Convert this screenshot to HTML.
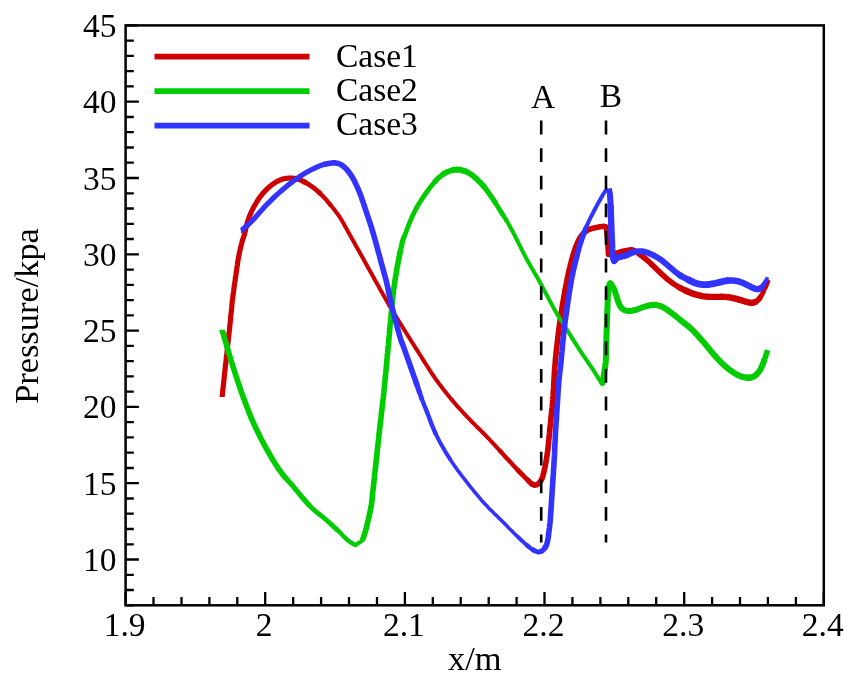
<!DOCTYPE html>
<html><head><meta charset="utf-8"><title>Pressure chart</title>
<style>html,body{margin:0;padding:0;background:#fff}svg{display:block;will-change:transform}</style></head>
<body>
<svg width="858" height="694" viewBox="0 0 858 694">
<rect width="858" height="694" fill="#fff"/>
<defs><clipPath id="cr"><rect x="0" y="0" width="858" height="396.9"/></clipPath><clipPath id="cg"><rect x="0" y="329.8" width="858" height="400"/></clipPath><clipPath id="cb"><rect x="241.1" y="0" width="700" height="694"/></clipPath></defs>
<g fill="none" stroke="#cc0000" stroke-linejoin="round"><path clip-path="url(#cr)" d="M221.8 399.4 L221.7 400.3 L222.1 396.9 L222.3 395.4 L222.5 393.6 L222.7 391.5 L222.9 389.2 L223.2 386.7 L223.5 384.1 L223.8 381.3 L224.1 378.5 L224.4 375.6 L224.7 372.7 L225.0 369.9 L225.3 367.1 L225.6 364.5 L225.9 362.0 L226.2 359.2 L226.5 356.2 L226.9 353.3 L227.2 350.3 L227.5 347.3 L227.8 344.4 L228.1 341.6 L228.4 338.9 L228.7 336.3 L229.0 333.9 L229.2 331.8 L229.4 329.9 L229.9 325.4 L230.1 323.4 L230.4 320.0 L230.6 318.0 L230.8 315.7 L231.1 313.2 L231.4 310.5 L231.7 307.7 L231.9 304.9 L232.2 302.2 L232.5 299.7 L232.8 297.3 L233.1 294.6 L233.5 292.1 L233.8 289.7 L234.1 287.4 L234.4 285.1 L234.8 282.6 L235.2 279.9 L235.5 277.6 L235.9 275.1 L236.2 272.5 L236.6 269.9 L237.0 267.3 L237.4 264.6 L237.7 262.1 L238.1 259.7 L238.5 257.5 L239.1 254.4 L239.7 251.5 L240.3 248.9 L240.9 246.4 L241.5 244.1 L242.0 242.0 L242.9 239.0 L243.7 236.8 L244.6 233.9 L245.2 231.5 L245.8 228.7 L246.5 225.8 L247.2 222.8 L248.1 219.9 L249.0 217.5 L249.9 215.2 L250.9 212.8 L252.0 210.5 L253.2 208.1 L254.4 205.9 L255.7 203.7 L257.0 201.5 L258.4 199.3 L259.8 197.3 L261.3 195.3 L262.8 193.4 L264.7 191.3 L266.7 189.3 L268.7 187.5 L270.7 185.8 L272.6 184.3 L275.5 182.3 L278.2 180.9 L280.9 179.7 L283.7 178.8 L286.5 178.3 L289.3 178.0 L292.1 178.1 L294.9 178.4 L297.7 179.1 L300.5 180.1 L303.3 181.4 L306.1 182.9" stroke-width="5.2"/><path d="M303.3 181.4 L306.1 182.9 L308.2 184.1 L310.3 185.5 L312.4 186.9 L314.5 188.5 L316.6 190.2 L318.7 192.1 L320.8 194.1" stroke-width="4.8"/><path d="M318.7 192.1 L320.8 194.1 L322.9 196.2 L324.6 198.0 L326.3 199.9 L327.9 201.8 L329.6 203.8 L331.3 205.9" stroke-width="4.4"/><path d="M329.6 203.8 L331.3 205.9 L333.0 208.0 L334.8 210.3 L336.5 212.6 L338.2 214.8 L339.7 217.0 L341.3 219.6 L342.8 222.1 L344.1 224.5 L345.5 227.0 L346.8 229.3 L348.0 231.5 L349.4 234.0 L351.2 237.3 L352.2 239.1 L353.3 241.0 L354.4 243.1 L355.6 245.2 L356.9 247.5 L358.3 249.9 L359.6 252.3 L361.0 254.8 L362.4 257.3 L363.6 259.4 L364.8 261.6 L366.0 263.8 L367.3 266.2 L368.6 268.5 L369.9 270.9 L371.3 273.2 L372.6 275.6 L373.9 278.0 L375.1 280.3 L376.4 282.5 L377.8 284.9 L379.1 287.4 L380.5 289.9 L381.9 292.3 L383.2 294.8 L384.6 297.1 L385.9 299.5 L387.2 301.7 L388.4 303.9 L389.6 306.0 L391.2 308.8 L392.8 311.3 L394.3 313.8 L395.7 316.1 L397.1 318.4 L398.5 320.7 L400.0 323.0 L401.5 325.4 L403.0 327.8 L404.5 330.3 L406.0 332.7 L407.5 335.0 L408.9 337.3 L410.3 339.5 L411.7 341.8 L413.0 343.7 L414.2 345.6 L415.4 347.6 L416.9 349.9 L418.7 352.7 L419.8 354.5 L421.1 356.5 L422.4 358.6 L423.8 360.9 L425.2 363.2 L426.7 365.5 L428.3 367.9 L429.8 370.3 L431.3 372.7 L432.9 375.0 L434.4 377.2 L435.9 379.3 L437.5 381.5 L439.0 383.6 L440.6 385.7 L442.2 387.8 L443.8 389.9 L445.5 392.0 L447.1 394.0 L448.7 396.0 L450.3 398.0 L451.9 399.9 L453.7 402.0 L455.4 404.0 L457.2 406.1 L459.0 408.0 L460.8 410.0 L462.5 411.9 L464.3 413.8 L466.0 415.6 L467.7 417.4 L469.4 419.2 L471.5 421.3 L473.5 423.4 L475.5 425.4 L477.4 427.3 L479.4 429.2 L481.3 431.1 L483.2 433.0 L485.1 434.9 L486.9 436.8 L488.7 438.7 L490.4 440.5 L492.1 442.3 L493.9 444.2 L495.6 446.1 L497.5 448.1 L499.4 450.2 L501.1 452.0" stroke-width="4.0"/><path d="M499.4 450.2 L501.1 452.0 L502.8 453.9 L504.6 455.9 L506.5 457.9 L508.4 460.0 L510.3 462.0 L512.1 464.0 L513.8 465.9 L515.4 467.6 L516.9 469.2 L519.6 472.0" stroke-width="4.4"/><path d="M516.9 469.2 L519.6 472.0 L521.9 474.3 L524.0 476.4 L525.9 478.2 L527.4 479.7 L529.6 482.0" stroke-width="4.8"/><path d="M527.4 479.7 L529.6 482.0 L531.0 483.2 L532.7 484.5" stroke-width="5.2"/><path d="M531.0 483.2 L532.7 484.5 L534.5 485.2 L536.5 484.8 L538.5 483.6 L540.3 481.8 L542.0 478.6 L542.7 476.6 L543.4 474.1 L544.0 471.4 L544.7 468.5 L545.3 465.6 L545.8 463.1 L546.2 460.4 L546.7 457.6 L547.1 454.8 L547.5 452.2 L547.8 449.9 L548.2 446.7 L548.4 444.2 L548.8 440.0 L549.0 438.1 L549.2 435.8 L549.5 433.3 L549.7 430.6 L550.0 427.8 L550.3 425.0 L550.6 422.2 L550.8 419.6 L551.1 417.2 L551.3 415.0 L551.6 412.1 L551.8 410.0 L552.1 408.1 L552.3 406.0 L552.5 403.5 L552.8 399.9 L552.9 398.0 L553.1 395.9 L553.2 393.7 L553.3 391.4 L553.5 388.9 L553.6 386.3 L553.8 383.6 L553.9 380.9 L554.1 378.2 L554.2 375.5 L554.4 372.8 L554.6 370.1 L554.8 367.4 L555.0 364.9 L555.2 362.4 L555.4 359.9 L555.7 357.4 L555.9 354.9 L556.2 352.4 L556.4 349.8 L556.7 347.3 L557.0 344.8 L557.3 342.3 L557.6 339.8 L557.9 337.3 L558.2 334.8 L558.5 332.4 L558.8 329.9 L559.2 327.2 L559.5 324.5 L559.9 321.7 L560.3 319.0 L560.8 316.2 L561.2 313.4 L561.6 310.7 L562.0 308.0 L562.4 305.4 L562.9 302.9 L563.3 300.5 L563.6 298.2 L564.0 296.0 L564.6 292.7 L565.1 289.6 L565.7 286.7 L566.2 284.0 L566.7 281.5 L567.1 279.2 L567.6 277.0 L568.0 275.0 L568.7 271.8 L569.2 269.5 L569.8 267.5 L570.4 265.0 L571.0 262.6 L571.7 259.9 L572.5 257.2 L573.2 254.5 L574.0 252.0 L575.0 249.1 L576.0 246.3 L577.0 243.8 L578.0 241.5 L579.3 239.0 L580.6 236.8 L582.0 235.0 L584.1 232.7 L586.5 230.8 L589.5 229.3 L592.9 228.2 L596.5 227.4 L599.9 226.8 L602.3 226.5 L604.1 226.4 L605.5 226.8 L606.4 227.2" stroke-width="5.6"/><path d="M606.4 227.2 L606.6 228.9 L606.8 231.3 L607.1 234.1 L607.4 237.1 L607.6 240.0 L607.8 243.0 L608.0 246.4 L608.2 249.7 L608.4 252.5 L608.5 254.5" stroke-width="5.6"/><path d="M608.5 254.5 L610.5 254.2 L613.4 253.7 L616.2 253.2 L619.7 252.3 L623.1 251.3 L626.8 250.4 L630.1 249.9 L632.1 249.8 L634.3 250.6 L636.1 251.7 L638.3 253.2 L640.6 254.9 L642.7 256.5 L645.1 258.5 L647.4 260.4 L649.7 262.5 L651.9 264.6 L654.1 266.7 L656.7 269.3 L658.3 270.8 L660.1 272.6 L662.0 274.4 L664.0 276.2 L666.0 278.0 L667.9 279.6 L670.1 281.3 L672.4 283.0 L674.6 284.5 L676.9 286.0 L679.1 287.3 L681.9 288.8" stroke-width="5.6"/><path d="M679.1 287.3 L681.9 288.8 L684.8 290.2 L687.6 291.5" stroke-width="6.0"/><path d="M684.8 290.2 L687.6 291.5 L690.0 292.5 L693.7 293.9 L697.0 294.8 L699.6 295.5 L702.4 296.1 L705.4 296.6 L708.6 296.8 L711.9 296.9 L715.2 296.9 L718.6 296.9 L721.9 296.8 L725.0 296.9 L728.7 297.2 L732.0 297.8 L735.5 298.7 L739.0 299.7 L742.5 300.7 L745.9 301.7 L748.8 302.5 L751.5 302.9 L754.0 302.6" stroke-width="6.4"/><path d="M751.5 302.9 L754.0 302.6 L756.4 301.5" stroke-width="6.0"/><path d="M754.0 302.6 L756.4 301.5 L758.6 299.5 L760.6 296.9" stroke-width="5.6"/><path d="M758.6 299.5 L760.6 296.9 L762.4 293.8" stroke-width="4.8"/><path d="M760.6 296.9 L762.4 293.8 L764.1 290.6" stroke-width="4.4"/><path d="M762.4 293.8 L764.1 290.6 L765.6 287.7 L766.9 285.0" stroke-width="4.0"/><path d="M765.6 287.7 L766.9 285.0 L768.1 282.2 L769.0 280.1" stroke-width="3.6"/><circle cx="606.4" cy="227.2" r="2.8" fill="#cc0000" stroke="none"/><circle cx="608.5" cy="254.5" r="2.8" fill="#cc0000" stroke="none"/></g>
<g fill="none" stroke="#00cc00" stroke-linejoin="round"><path clip-path="url(#cg)" d="M221.4 327.4 L221.2 326.8 L222.1 329.8 L222.6 331.4 L223.1 333.4 L223.8 335.7 L224.5 338.2 L225.3 341.0 L226.2 343.8 L227.0 346.8 L227.9 349.7 L228.7 352.6 L229.5 355.3 L230.3 357.9 L231.1 360.6 L232.0 363.3 L232.8 366.1 L233.7 368.8 L234.6 371.4 L235.4 374.0 L236.2 376.6 L237.0 379.0 L237.8 381.3 L238.5 383.5 L239.6 386.7 L240.5 389.4 L241.3 391.9 L242.2 394.3 L243.2 397.0 L244.3 400.0 L245.1 402.1 L245.9 404.2 L246.8 406.5 L247.7 408.8 L248.6 411.2 L249.5 413.7 L250.5 416.1 L251.5 418.5 L252.6 420.9 L253.6 423.3 L254.7 425.6 L255.7 428.0 L256.9 430.3 L258.0 432.6 L259.2 434.9 L260.3 437.3 L261.5 439.6 L262.8 441.9 L264.0 444.3 L265.3 446.6 L266.6 449.0 L268.0 451.4 L269.4 453.9 L270.8 456.3 L272.2 458.8 L273.7 461.2 L275.1 463.5 L276.6 465.8 L277.9 467.9 L279.3 469.9 L281.1 472.4 L282.8 474.6 L284.5 476.6 L286.2 478.5" stroke-width="5.6"/><path d="M284.5 476.6 L286.2 478.5 L287.9 480.4 L289.8 482.5 L291.9 484.9 L293.4 486.6 L294.9 488.5 L296.6 490.5 L298.2 492.5 L300.0 494.6 L301.7 496.7 L303.5 498.8 L305.2 500.8 L306.9 502.7 L308.5 504.5 L310.0 506.1" stroke-width="5.2"/><path d="M308.5 504.5 L310.0 506.1 L312.2 508.3 L314.3 510.2 L316.3 511.8 L318.2 513.3 L320.1 514.8 L322.0 516.3 L324.0 518.0 L326.0 519.8 L328.1 521.6 L330.2 523.5 L332.3 525.4 L334.3 527.2 L336.2 528.9 L338.0 530.6" stroke-width="4.8"/><path d="M336.2 528.9 L338.0 530.6 L340.3 532.8 L342.3 534.9 L344.2 536.9 L346.0 538.7 L347.8 540.3 L350.8 542.5 L353.6 544.1 L355.5 545.2" stroke-width="4.4"/><path d="M355.5 545.2 L357.5 543.7 L360.4 541.8 L362.4 540.3" stroke-width="4.0"/><path d="M362.4 540.3 L363.1 538.4 L364.1 535.5 L365.2 532.0 L365.9 529.6 L366.6 526.8 L367.3 523.9 L368.0 520.9 L368.7 518.0 L369.3 515.1 L370.0 512.2 L370.5 509.4 L371.1 506.6 L371.5 504.0 L371.9 501.1 L372.1 498.5 L372.3 496.0 L372.6 493.2 L372.9 490.8 L373.2 488.3 L373.5 485.7 L373.8 482.9 L374.1 480.0 L374.4 477.6 L374.6 475.2 L374.9 472.7 L375.2 469.9 L375.6 466.7 L376.0 462.9 L376.2 460.9 L376.5 458.7 L376.7 456.4 L377.0 453.9 L377.2 451.4 L377.5 448.8 L377.8 446.1 L378.1 443.4 L378.4 440.7 L378.7 438.0 L378.9 435.3 L379.2 432.8 L379.5 430.3 L379.8 427.7 L380.1 425.2 L380.4 422.7 L380.7 420.2 L381.0 417.8 L381.2 415.3 L381.5 412.8 L381.8 410.4 L382.1 407.9 L382.4 405.3 L382.7 402.7 L383.0 400.0 L383.3 397.6 L383.5 395.2 L383.8 392.8 L384.0 390.3 L384.3 387.8 L384.5 385.3 L384.8 382.7 L385.0 380.2 L385.3 377.6 L385.5 375.1 L385.8 372.5 L386.0 370.0 L386.3 367.4 L386.5 364.9 L386.7 362.4 L387.0 359.9 L387.2 357.4 L387.4 354.8 L387.7 352.3 L387.9 349.8 L388.1 347.3 L388.4 344.7 L388.6 342.2 L388.8 339.7 L389.0 337.3 L389.3 334.8 L389.5 332.3 L389.7 329.9 L389.9 327.2 L390.2 324.5 L390.5 321.8 L390.7 319.0 L391.0 316.2 L391.2 313.4 L391.5 310.7 L391.7 308.1 L392.0 305.6 L392.2 303.2 L392.4 301.0 L392.6 298.9 L392.8 297.0 L393.2 293.2 L393.5 290.7 L393.8 288.8 L394.1 286.7 L394.5 283.9 L394.8 281.7 L395.2 279.2 L395.6 276.6 L396.1 273.9 L396.5 271.1 L397.0 268.3 L397.5 265.6 L398.0 262.9 L398.5 260.2 L399.1 257.4 L399.6 254.5 L400.2 251.6" stroke-width="5.6"/><path d="M399.6 254.5 L400.2 251.6 L400.8 248.9 L401.4 246.3 L401.9 244.0 L402.4 242.0 L403.4 238.5 L404.3 236.4" stroke-width="5.2"/><path d="M403.4 238.5 L404.3 236.4 L405.3 233.9 L406.3 231.3 L407.3 228.5 L408.4 225.6 L409.6 222.7 L410.8 219.9 L412.0 217.0 L413.3 214.2 L414.6 211.5 L415.9 209.0 L417.3 206.5 L418.7 204.1 L420.2 201.7 L421.9 199.1 L423.7 196.4 L425.5 193.8 L427.2 191.5 L429.1 188.9 L430.7 186.7 L432.5 184.5 L434.4 182.2 L436.4 180.0" stroke-width="4.8"/><path d="M434.4 182.2 L436.4 180.0 L438.6 177.8 L440.5 176.2 L442.5 174.6 L444.7 173.2" stroke-width="5.2"/><path d="M442.5 174.6 L444.7 173.2 L447.0 172.0 L449.5 171.1 L452.1 170.3 L454.8 169.8" stroke-width="5.6"/><path d="M452.1 170.3 L454.8 169.8 L457.3 169.6 L460.4 169.8 L463.5 170.6 L466.4 171.7" stroke-width="6.0"/><path d="M463.5 170.6 L466.4 171.7 L468.6 172.8 L470.6 174.1 L472.7 175.6 L474.8 177.3 L476.9 179.1 L478.9 181.2 L481.0 183.3 L483.1 185.7 L484.8 187.7" stroke-width="5.6"/><path d="M483.1 185.7 L484.8 187.7 L486.5 189.9 L488.1 192.1 L489.8 194.5 L491.5 196.9 L492.9 199.0 L494.4 201.2 L495.8 203.5" stroke-width="5.2"/><path d="M494.4 201.2 L495.8 203.5 L497.2 205.8 L498.6 208.0 L499.9 210.1 L501.4 212.4 L502.8 214.7" stroke-width="4.8"/><path d="M501.4 212.4 L502.8 214.7 L504.2 216.8 L505.5 219.0 L506.9 221.3" stroke-width="4.4"/><path d="M505.5 219.0 L506.9 221.3 L508.2 223.5 L509.4 225.6 L510.7 227.9 L512.1 230.5 L513.9 233.9 L514.9 235.7 L515.9 237.8 L517.0 240.0 L518.2 242.4 L519.4 244.8 L520.7 247.3 L521.9 249.8 L523.2 252.3 L524.5 254.8 L525.7 257.2 L526.9 259.4 L528.2 261.7 L529.4 263.9 L530.6 266.1 L531.8 268.2 L533.1 270.3 L534.3 272.4 L535.5 274.5 L536.8 276.7 L538.1 279.0 L539.5 281.5 L540.7 283.7 L542.0 286.0 L543.2 288.5 L544.6 291.0 L545.9 293.5 L547.3 296.1 L548.6 298.7 L550.0 301.2 L551.3 303.6 L552.5 305.9 L553.7 308.1 L554.8 310.1 L556.5 313.1 L558.0 315.6 L559.4 317.8 L560.7 319.9 L562.1 322.0 L563.5 324.3 L565.2 327.0 L566.4 328.9 L567.7 331.0 L569.0 333.1 L570.4 335.3 L571.8 337.6 L573.2 339.9 L574.7 342.1 L576.1 344.4 L577.4 346.5 L578.8 348.6 L580.0 350.5 L581.6 353.0 L583.2 355.3 L584.7 357.4 L586.1 359.5 L587.5 361.6 L588.9 363.6 L590.3 365.6 L591.7 367.7 L593.4 370.2 L595.1 373.0 L596.8 375.7 L598.5 378.4 L600.0 380.8 L601.3 382.8 L602.2 384.3" stroke-width="4.0"/><path d="M602.2 384.3 L602.5 382.8 L602.8 380.8 L603.2 378.4 L603.7 375.7 L604.2 372.8 L604.6 369.9 L605.1 367.1 L605.4 364.4 L605.7 362.0 L605.9 359.3 L606.0 356.7 L606.1 354.4 L606.1 352.0 L606.1 349.5 L606.1 346.9 L606.2 343.9 L606.3 341.6 L606.4 339.2 L606.4 336.6 L606.5 334.0 L606.6 331.3 L606.7 328.5 L606.8 325.8 L606.9 323.1 L607.0 320.5 L607.1 318.0 L607.2 315.2 L607.3 312.4 L607.4 309.6 L607.5 306.8 L607.6 304.1 L607.7 301.5 L607.8 299.1 L607.9 296.9 L608.0 295.0 L608.3 290.7 L608.6 288.0 L609.0 286.0 L609.5 283.9 L610.2 283.2 L611.0 283.8 L612.0 285.5 L613.3 287.6 L614.8 290.8 L615.6 293.3 L616.5 296.3 L617.4 299.4 L618.3 302.0 L619.9 305.7 L621.7 308.3 L624.3 310.1 L627.3 311.0 L630.5 311.0 L634.3 310.3 L636.6 309.6 L639.0 308.7 L641.6 307.7 L644.1 306.9 L646.6 306.2 L649.1 305.5 L651.5 305.0 L653.9 304.8 L656.8 305.1 L659.6 305.8 L662.3 306.9 L664.4 308.0 L666.4 309.3 L668.5 310.8 L670.7 312.4 L673.0 314.1 L675.4 316.0 L677.9 318.0 L680.5 320.1 L682.7 321.8 L684.9 323.6 L687.2 325.4 L689.6 327.4 L691.9 329.5 L693.8 331.4 L695.7 333.4 L697.7 335.5 L699.6 337.7 L701.6 339.9 L703.5 342.1 L705.2 344.0 L706.8 346.1 L708.5 348.1 L710.2 350.2 L711.9 352.2 L713.5 354.2 L715.2 356.1 L717.2 358.2 L719.1 360.3 L721.1 362.3 L723.0 364.2 L725.0 366.0 L726.9 367.7 L729.3 369.6 L731.7 371.3 L734.0 372.9 L736.3 374.3 L738.5 375.4 L741.9 376.7 L745.0 377.4 L747.8 377.7" stroke-width="6.0"/><path d="M745.0 377.4 L747.8 377.7 L751.5 377.4" stroke-width="6.4"/><path d="M747.8 377.7 L751.5 377.4 L754.8 375.9 L756.9 374.1 L758.9 371.8 L760.7 368.9 L761.7 366.8 L762.7 364.3 L763.7 361.8 L764.5 359.3" stroke-width="6.0"/><path d="M763.7 361.8 L764.5 359.3 L765.3 357.2 L766.7 353.0 L767.6 350.2" stroke-width="5.6"/><circle cx="355.5" cy="545.2" r="2.0" fill="#00cc00" stroke="none"/><circle cx="362.4" cy="540.3" r="2.0" fill="#00cc00" stroke="none"/><circle cx="602.2" cy="384.3" r="2.0" fill="#00cc00" stroke="none"/></g>
<g fill="none" stroke="#3333ff" stroke-linejoin="round"><path clip-path="url(#cb)" d="M239.1 232.1 L240.0 231.5 L241.1 230.6 L241.7 230.3" stroke-width="4.8"/><path d="M241.1 230.6 L241.7 230.3 L243.2 229.0 L244.6 227.7 L246.5 226.1 L248.6 224.2 L250.8 222.1 L253.0 219.9 L254.8 218.0 L256.6 215.9 L258.5 213.7 L260.4 211.5 L262.3 209.4 L264.2 207.3 L266.1 205.3 L267.9 203.4 L269.8 201.6 L271.6 199.7 L273.4 198.0 L275.3 196.2 L277.5 194.1 L279.8 192.1 L282.0 190.2 L284.3 188.2 L286.5 186.4 L288.7 184.6 L291.0 182.9 L293.2 181.2 L295.5 179.6 L297.7 178.0 L299.9 176.5 L302.2 175.0 L304.4 173.6 L306.7 172.3 L308.9 171.0 L311.8 169.5 L314.7 168.1 L317.5 166.8 L320.1 165.7 L323.2 164.6 L325.9 163.9" stroke-width="5.2"/><path d="M323.2 164.6 L325.9 163.9 L328.5 163.4 L332.2 162.9 L335.5 162.9 L338.4 163.5 L341.2 164.7 L344.0 166.8 L346.8 169.6 L348.7 171.9 L350.6 174.5 L352.4 177.3 L353.7 179.6 L354.9 182.0 L356.1 184.6 L357.3 187.1 L358.4 189.6 L359.4 192.2 L360.5 194.8 L361.5 197.6 L362.3 200.0 L363.2 202.5 L364.0 205.0 L364.9 207.6 L365.7 210.1 L366.6 212.6 L367.4 215.2 L368.3 217.8 L369.1 220.3 L369.9 222.7 L370.9 225.7 L371.8 228.6 L372.6 231.4 L373.4 233.9 L374.1 236.4 L374.7 238.5 L375.7 242.0 L376.2 244.0 L376.9 246.4 L377.6 249.0 L378.3 251.8 L379.1 254.6 L379.9 257.5 L380.6 260.3 L381.3 262.9 L382.1 265.8 L382.9 268.6 L383.7 271.5 L384.4 274.3 L385.2 277.0 L385.9 279.6 L386.5 282.0 L387.2 285.2 L387.9 288.1 L388.4 290.9 L389.0 293.5 L389.5 296.0 L390.0 298.5 L390.4 300.5 L391.0 303.0 L392.0 307.0 L392.5 308.9 L393.1 311.1 L393.7 313.6 L394.4 316.3 L395.1 319.1 L395.9 322.0 L396.7 324.8 L397.4 327.7 L398.1 330.3 L398.8 332.8 L399.4 335.1 L400.0 337.0 L401.1 340.7 L401.9 342.6 L402.7 344.6 L404.2 348.6 L404.8 350.4 L405.5 352.4 L406.3 354.6 L407.2 357.1 L408.1 359.6 L409.0 362.3 L410.0 365.0 L410.9 367.8 L411.9 370.5 L412.8 373.1 L413.7 375.7 L414.6 378.1 L415.3 380.2 L416.0 382.2 L417.2 385.6" stroke-width="5.6"/><path d="M416.0 382.2 L417.2 385.6 L418.2 388.6 L419.1 391.2 L419.9 393.5" stroke-width="5.2"/><path d="M419.1 391.2 L419.9 393.5 L420.6 395.6 L421.3 397.6 L422.0 399.5" stroke-width="4.8"/><path d="M421.3 397.6 L422.0 399.5 L423.2 402.5 L424.0 404.7 L425.7 408.7 L426.4 410.4 L427.1 412.4 L428.0 414.6 L428.9 417.0 L429.8 419.5 L430.8 422.1 L431.8 424.7 L432.9 427.4 L434.0 430.0 L435.1 432.5 L436.2 434.9" stroke-width="4.4"/><path d="M435.1 432.5 L436.2 434.9 L437.4 437.2 L438.6 439.6 L439.8 441.9 L441.1 444.2 L442.4 446.5 L443.7 448.8 L445.0 451.1 L446.4 453.4 L447.8 455.6 L449.2 457.8 L450.6 460.0" stroke-width="4.0"/><path d="M449.2 457.8 L450.6 460.0 L452.0 462.2 L453.5 464.3 L454.9 466.4 L456.4 468.5 L457.9 470.6 L459.5 472.6 L461.0 474.7 L462.5 476.7 L464.1 478.7 L465.6 480.7 L467.2 482.7 L468.9 484.9 L470.6 487.1 L472.4 489.2 L474.1 491.4 L475.9 493.5 L477.7 495.6 L479.4 497.7 L481.2 499.8 L482.9 501.7 L484.7 503.7 L486.7 505.8 L488.6 507.9 L490.6 509.9 L492.6 511.8 L494.5 513.7 L496.5 515.6 L498.4 517.5 L500.3 519.4 L502.2 521.2 L504.3 523.3 L506.3 525.3 L508.3 527.4 L510.3 529.4 L512.2 531.3 L514.1 533.3 L516.0 535.1 L517.9 536.9 L520.0 538.9" stroke-width="3.6"/><path d="M517.9 536.9 L520.0 538.9 L522.2 540.9 L524.3 542.9 L526.4 544.8 L528.4 546.5" stroke-width="4.0"/><path d="M526.4 544.8 L528.4 546.5 L530.2 548.0 L531.9 549.2 L535.2 551.1" stroke-width="4.4"/><path d="M531.9 549.2 L535.2 551.1 L537.8 552.0 L540.2 551.8 L542.5 550.6" stroke-width="4.8"/><path d="M540.2 551.8 L542.5 550.6 L544.7 548.4 L546.4 545.2" stroke-width="5.2"/><path d="M544.7 548.4 L546.4 545.2 L547.1 543.2 L547.6 540.8 L548.1 538.2 L548.5 535.5 L548.8 532.7 L549.2 529.9 L549.5 527.6 L549.7 525.3 L550.0 523.0 L550.2 520.6 L550.4 518.1 L550.6 515.4 L550.8 512.4 L551.0 510.1 L551.1 507.7 L551.3 505.2 L551.5 502.5 L551.6 499.8 L551.8 497.1 L552.0 494.3 L552.2 491.6 L552.3 488.9 L552.5 486.2 L552.7 483.6 L552.8 481.0 L553.0 478.4 L553.2 475.8 L553.4 473.1 L553.5 470.5 L553.7 467.9 L553.9 465.3 L554.0 462.7 L554.2 460.0 L554.3 457.4 L554.5 454.7 L554.6 452.2 L554.7 449.6 L554.8 446.9 L554.9 444.3 L555.1 441.6 L555.2 438.8 L555.3 436.0 L555.5 433.0 L555.6 430.6 L555.8 428.1 L555.9 425.5 L556.1 422.8 L556.3 420.1 L556.5 417.4 L556.6 414.6 L556.8 411.9 L557.0 409.3 L557.1 406.8 L557.3 404.3 L557.5 402.0 L557.6 399.9 L557.8 396.3 L558.0 393.1 L558.2 390.2 L558.4 387.5 L558.6 385.0 L558.8 382.5 L559.0 380.0 L559.2 377.4 L559.5 375.3 L559.7 373.4 L560.0 371.2 L560.3 368.5 L560.7 364.9 L560.9 363.0 L561.1 360.9 L561.3 358.7 L561.5 356.3 L561.7 353.8 L562.0 351.2 L562.2 348.6 L562.5 345.9 L562.7 343.1 L563.0 340.4 L563.3 337.7 L563.5 335.0 L563.8 332.4 L564.1 329.9 L564.4 327.2 L564.8 324.5 L565.1 321.7 L565.5 318.9 L565.9 316.1 L566.3 313.3 L566.7 310.6 L567.0 307.9 L567.4 305.3 L567.8 302.8 L568.1 300.4 L568.5 298.1 L568.8 296.0 L569.3 292.5 L569.8 289.4 L570.3 286.7 L570.7 284.2 L571.1 281.8 L571.5 279.5 L572.0 277.1 L572.6 274.3 L573.1 271.7 L573.7 269.1 L574.3 266.6 L574.9 264.1 L575.5 261.7 L576.2 258.8 L576.9 256.0 L577.6 253.2 L578.3 250.5 L579.0 247.8 L579.8 245.2 L580.5 242.7 L581.4 240.2 L582.2 237.7 L583.1 235.2 L584.0 232.7" stroke-width="5.6"/><path d="M583.1 235.2 L584.0 232.7 L585.0 230.2" stroke-width="5.2"/><path d="M584.0 232.7 L585.0 230.2 L586.0 227.6" stroke-width="4.8"/><path d="M585.0 230.2 L586.0 227.6 L587.1 225.1" stroke-width="4.4"/><path d="M586.0 227.6 L587.1 225.1 L588.2 222.6 L589.4 220.0 L590.7 217.3 L592.1 214.7 L593.4 212.2 L594.5 210.0 L595.9 207.3 L597.1 205.1 L598.5 202.5 L599.7 200.4 L601.1 197.9 L602.5 195.4 L603.9 193.2 L605.0 191.5 L606.9 189.7 L608.0 189.3" stroke-width="4.0"/><path d="M609.2 188.6 L609.5 190.9" stroke-width="4.8"/><path d="M609.2 188.6 L609.5 190.9 L609.9 194.2" stroke-width="5.2"/><path d="M609.5 190.9 L609.9 194.2 L610.2 198.0" stroke-width="5.6"/><path d="M609.9 194.2 L610.2 198.0 L610.3 200.3 L610.5 202.8 L610.6 205.5 L610.7 208.5" stroke-width="6.0"/><path d="M610.6 205.5 L610.7 208.5 L610.8 212.0 L610.9 214.3 L611.0 216.7 L611.1 219.4 L611.2 222.2 L611.3 225.1 L611.4 228.0 L611.5 230.8 L611.6 233.5 L611.7 236.0 L611.8 239.1 L612.0 242.3 L612.1 245.4 L612.2 248.4 L612.4 251.1 L612.5 253.5 L612.7 255.5 L613.5 259.5 L614.1 261.1" stroke-width="6.4"/><path d="M614.1 261.1 L615.3 259.5 L617.6 257.6 L620.1 256.8 L623.2 256.2 L625.9 255.5 L628.8 254.1 L631.5 252.7 L634.9 251.8" stroke-width="6.4"/><path d="M631.5 252.7 L634.9 251.8 L638.5 251.3 L641.9 251.3 L645.5 252.0 L648.2 252.9 L651.2 254.2 L653.9 255.5 L656.3 256.8 L658.6 258.2 L660.9 259.7 L663.1 261.4 L665.3 263.3 L667.9 265.5 L669.9 267.2 L672.1 269.1 L674.4 271.1 L676.8 273.0 L679.1 274.7 L681.9 276.5" stroke-width="6.0"/><path d="M679.1 274.7 L681.9 276.5 L684.8 278.0 L687.6 279.4 L690.0 280.6" stroke-width="6.4"/><path d="M687.6 279.4 L690.0 280.6 L692.6 281.9 L694.7 282.8 L697.0 283.6 L699.6 284.2 L702.4 284.6 L705.4 284.7 L708.6 284.5 L711.9 283.9 L715.2 283.3 L717.7 282.7 L720.3 282.1 L722.7 281.5 L725.0 281.0 L728.7 280.5" stroke-width="6.8"/><path d="M725.0 281.0 L728.7 280.5 L732.0 280.5 L735.5 280.8 L739.0 281.5 L742.4 282.7 L745.9 284.3 L748.3 285.5 L750.7 286.8 L752.9 287.8 L755.5 288.9 L757.8 289.2 L760.0 288.6" stroke-width="6.4"/><path d="M757.8 289.2 L760.0 288.6 L762.0 287.1" stroke-width="6.0"/><path d="M760.0 288.6 L762.0 287.1 L763.9 284.4" stroke-width="5.2"/><path d="M762.0 287.1 L763.9 284.4 L765.5 281.5" stroke-width="4.4"/><path d="M763.9 284.4 L765.5 281.5 L766.8 279.1" stroke-width="4.0"/><path d="M765.5 281.5 L766.8 279.1 L767.6 277.3" stroke-width="3.6"/><circle cx="614.1" cy="261.1" r="3.1" fill="#3333ff" stroke="none"/></g>
<line x1="541.2" y1="120.6" x2="541.2" y2="542.6" stroke="#000" stroke-width="2.6" stroke-dasharray="13.8 13.8"/>
<line x1="606.0" y1="120.6" x2="606.0" y2="542.6" stroke="#000" stroke-width="2.6" stroke-dasharray="13.8 13.8"/>
<rect x="125.6" y="25.4" width="698.2" height="579.9" fill="none" stroke="#000" stroke-width="2.5"/>
<path d="M125.6 605.3V592.0M153.5 605.3V597.1M181.5 605.3V597.1M209.4 605.3V597.1M237.3 605.3V597.1M265.2 605.3V592.0M293.2 605.3V597.1M321.1 605.3V597.1M349.0 605.3V597.1M377.0 605.3V597.1M404.9 605.3V592.0M432.8 605.3V597.1M460.7 605.3V597.1M488.7 605.3V597.1M516.6 605.3V597.1M544.5 605.3V592.0M572.4 605.3V597.1M600.4 605.3V597.1M628.3 605.3V597.1M656.2 605.3V597.1M684.2 605.3V592.0M712.1 605.3V597.1M740.0 605.3V597.1M767.9 605.3V597.1M795.9 605.3V597.1M823.8 605.3V592.0M125.6 605.3H133.8M125.6 590.0H133.8M125.6 574.8H133.8M125.6 559.5H138.9M125.6 544.3H133.8M125.6 529.0H133.8M125.6 513.7H133.8M125.6 498.5H133.8M125.6 483.2H138.9M125.6 468.0H133.8M125.6 452.7H133.8M125.6 437.4H133.8M125.6 422.2H133.8M125.6 406.9H138.9M125.6 391.7H133.8M125.6 376.4H133.8M125.6 361.1H133.8M125.6 345.9H133.8M125.6 330.6H138.9M125.6 315.3H133.8M125.6 300.1H133.8M125.6 284.8H133.8M125.6 269.6H133.8M125.6 254.3H138.9M125.6 239.0H133.8M125.6 223.8H133.8M125.6 208.5H133.8M125.6 193.3H133.8M125.6 178.0H138.9M125.6 162.7H133.8M125.6 147.5H133.8M125.6 132.2H133.8M125.6 117.0H133.8M125.6 101.7H138.9M125.6 86.4H133.8M125.6 71.2H133.8M125.6 55.9H133.8M125.6 40.7H133.8M125.6 25.4H138.9" stroke="#000" stroke-width="2.3" fill="none"/>
<g font-family="'Liberation Serif', serif" font-size="33.5" fill="#000">
<text x="124.6" y="635.5" text-anchor="middle">1.9</text>
<text x="264.2" y="635.5" text-anchor="middle">2</text>
<text x="403.9" y="635.5" text-anchor="middle">2.1</text>
<text x="543.5" y="635.5" text-anchor="middle">2.2</text>
<text x="683.2" y="635.5" text-anchor="middle">2.3</text>
<text x="822.8" y="635.5" text-anchor="middle">2.4</text>
<text x="116.5" y="571.0" text-anchor="end">10</text>
<text x="116.5" y="494.7" text-anchor="end">15</text>
<text x="116.5" y="418.4" text-anchor="end">20</text>
<text x="116.5" y="342.1" text-anchor="end">25</text>
<text x="116.5" y="265.8" text-anchor="end">30</text>
<text x="116.5" y="189.5" text-anchor="end">35</text>
<text x="116.5" y="113.2" text-anchor="end">40</text>
<text x="116.5" y="36.9" text-anchor="end">45</text>
<text x="474.7" y="670" text-anchor="middle" font-size="34.4">x/m</text>
<text transform="translate(38.2 316) rotate(-90)" text-anchor="middle" font-size="34.4">Pressure/kpa</text>
<text x="543.2" y="108.3" text-anchor="middle">A</text>
<text x="611" y="107.3" text-anchor="middle">B</text>
<text x="336" y="66.8">Case1</text>
<text x="336" y="101.1">Case2</text>
<text x="336" y="135.4">Case3</text>
</g>
<line x1="154.5" y1="56.6" x2="309.5" y2="56.6" stroke="#cc0000" stroke-width="5.9"/>
<line x1="154.5" y1="91.1" x2="309.5" y2="91.1" stroke="#00cc00" stroke-width="5.9"/>
<line x1="154.5" y1="125.6" x2="309.5" y2="125.6" stroke="#3333ff" stroke-width="5.9"/>
</svg>
</body></html>
